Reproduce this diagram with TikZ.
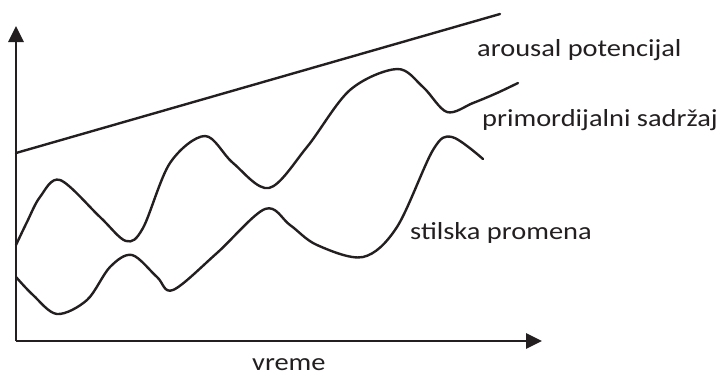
\documentclass[tikz,border=0pt]{standalone}
\usepackage{fontspec}
\setmainfont{Carlito}
\newfontfamily\labelfont[FakeStretch=1.16]{Carlito}
\usetikzlibrary{arrows.meta}
\definecolor{ink}{HTML}{231F20}
\begin{document}
\begin{tikzpicture}[x=1pt,y=-1pt,
  axis/.style={draw=ink,line width=2.8pt,-{Triangle[length=16pt,width=15pt]}},
  curve/.style={draw=ink,line width=2.4pt,line cap=round,line join=round},
  lbl/.style={anchor=base west,inner sep=0pt,text=ink,font=\labelfont\fontsize{24.5}{28}\selectfont}]
\useasboundingbox (0,0) rectangle (724,376);
% axes
\coordinate (O) at (16,341);
\coordinate (ytip) at (16,26);
\coordinate (xtip) at (542,341);
\draw[axis] (O) -- (ytip);
\draw[axis] (O) -- (xtip);
% arousal potential: straight rising line
\coordinate (a0) at (16,153);
\coordinate (a1) at (500,14);
\draw[curve] (a0) -- (a1);
% primordial content
\draw[curve] plot[smooth,tension=0.55] coordinates {
  (16,245) (27,222) (40,197) (60,180) (100,217) (126,241) (143,228)
  (170,163) (205,136) (233,163) (269,188) (307,147) (350,90) (397,69)
  (423,87) (447,112) (473,103) (497,93) (518,83)};
% stylistic change
\draw[curve] plot[smooth,tension=0.55] coordinates {
  (16,277) (33,295) (57,314) (87,300) (110,267) (132,255) (157,277)
  (173,290) (217,253) (265,209) (290,225) (317,245) (363,257) (397,227)
  (433,150) (452,137) (483,159)};
% labels
\node[lbl] (la) at (477,56) {arousal potencijal};
\node[lbl] (lp) at (482,126) {primordijalni sadržaj};
\node[lbl] (ls) at (410,239) {stilska promena};
\node[lbl] (lt) at (252,370) {vreme};
\end{tikzpicture}
\end{document}
